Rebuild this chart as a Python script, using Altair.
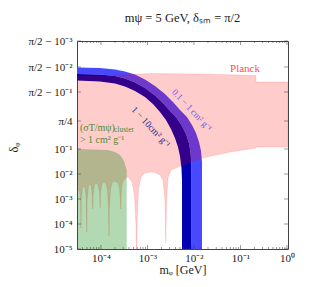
import math
import altair as alt
import pandas as pd

# ---- data -----------------------------------------------------------------
# x values are log10(m_phi / GeV); y values are positions on the delta_phi axis
# measured in "tick steps" (10^-5 -> 0, 10^-4 -> 1, ..., pi/2-10^-3 -> 8.32)

planck_logm = [-4.516, -3.806, -2.946, -1.871, -0.667, -0.667, 0.022, 0.022, -0.667, -0.667,
               -1.226, -1.828, -2.194, -2.344, -2.495, -2.559, -2.591, -2.606, -2.624, -2.667,
               -2.731, -2.839, -2.946, -3.054, -3.140, -3.194, -3.226, -3.232, -3.241, -3.247,
               -3.280, -3.333, -3.398, -3.447, -3.484, -3.527, -3.559, -3.572, -3.576, -3.583,
               -3.602, -3.634, -3.699, -3.763, -3.796, -3.822, -3.828, -3.837, -3.860, -3.892,
               -3.935, -3.978, -4.009, -4.019, -4.032, -4.065, -4.108, -4.140, -4.168, -4.178,
               -4.189, -4.211, -4.237, -4.269, -4.297, -4.305, -4.316, -4.340, -4.366, -4.398,
               -4.424, -4.430, -4.439, -4.462, -4.495, -4.516]
planck_u = [6.90, 6.94, 7.02, 7.00, 6.94, 6.68, 6.68, 4.08, 4.08, 4.04,
            3.88, 3.64, 3.40, 3.28, 3.16, 2.84, 1.96, 0.24, 1.96, 2.76,
            2.96, 3.06, 3.08, 3.04, 2.88, 2.36, 0.76, 0.0, 0.0, 0.96,
            2.16, 2.68, 2.84, 2.88, 2.80, 2.72, 2.44, 1.96, 1.60, 1.96,
            2.44, 2.64, 2.72, 2.66, 2.36, 1.56, 0.52, 1.56, 2.36, 2.60,
            2.68, 2.60, 2.28, 1.64, 2.28, 2.56, 2.64, 2.56, 2.16, 1.60,
            2.16, 2.52, 2.60, 2.52, 1.96, 0.68, 1.96, 2.44, 2.52, 2.44,
            1.96, 0.84, 1.96, 2.32, 2.36, 2.32]

cluster_logm = [-4.516, -3.849, -3.699, -3.591, -3.505, -3.447, -3.447, -4.516]
cluster_u = [4.00, 3.96, 3.88, 3.76, 3.52, 3.16, 0.0, 0.0]

# inner edge of the 1-10 cm^2/g band
inner_logm = [-4.516, -4.022, -3.699, -3.484, -3.269, -3.054, -2.882, -2.731, -2.602, -2.495,
              -2.409, -2.344, -2.301, -2.269, -2.258, -2.258]
inner_u = [6.74, 6.70, 6.62, 6.50, 6.32, 6.08, 5.80, 5.48, 5.16, 4.80,
           4.44, 4.08, 3.72, 3.24, 2.76, 0.0]
# edge between the two bands
mid_logm = [-4.516, -4.022, -3.699, -3.484, -3.269, -3.054, -2.839, -2.667, -2.516, -2.387,
            -2.258, -2.172, -2.108, -2.075, -2.058, -2.054, -2.054]
mid_u = [7.00, 6.98, 6.92, 6.82, 6.66, 6.44, 6.14, 5.84, 5.52, 5.28,
         4.92, 4.60, 4.24, 3.88, 3.44, 2.96, 0.0]
# outer edge of the 0.1-1 cm^2/g band
outer_logm = [-4.516, -4.022, -3.699, -3.484, -3.269, -3.054, -2.839, -2.624, -2.452, -2.301,
              -2.151, -2.043, -1.957, -1.892, -1.849, -1.828, -1.828]
outer_u = [7.26, 7.24, 7.18, 7.10, 6.98, 6.78, 6.52, 6.20, 5.88, 5.56,
           5.28, 4.96, 4.64, 4.28, 3.92, 3.48, 0.0]

y_tick_pos = [0, 1, 2, 3, 4, 5.12, 6.28, 7.28, 8.32]
y_tick_labels = ["10⁻⁵", "10⁻⁴", "10⁻³", "10⁻²", "10⁻¹", "π/4",
                 "π/2 − 10⁻¹", "π/2 − 10⁻²", "π/2 − 10⁻³"]
x_tick_logm = [-4, -3, -2, -1, 0]
x_tick_labels = ["10⁻⁴", "10⁻³", "10⁻²", "10⁻¹", "10⁰"]

label_text = ["Planck", "(σT/mψ)", "cluster", "> 1 cm² g⁻¹", "1 − 10cm² g⁻¹", "0.1 − 1 cm² g⁻¹"]
label_logm = [-0.903, -4.452, -3.720, -4.452, -2.925, -2.043]
label_u = [7.20, 4.84, 4.76, 4.36, 4.88, 5.56]

# ---- helpers ----------------------------------------------------------------
X_MIN, X_MAX = 10 ** -4.516, 10 ** 0.022
Y_MIN, Y_MAX = 0.0, 8.32
SERIF = "Liberation Serif"


def poly(logm, u):
    return pd.DataFrame({"m": [10 ** v for v in logm], "u": u, "i": list(range(len(u)))})


def band(a_logm, a_u, b_logm, b_u):
    return poly(list(a_logm) + list(reversed(b_logm)), list(a_u) + list(reversed(b_u)))


ylab = "''"
for p, t in zip(reversed(y_tick_pos), reversed(y_tick_labels)):
    ylab = f"abs(datum.value - {p}) < 0.01 ? '{t}' : ({ylab})"
xlab = "''"
for p, t in zip(reversed(x_tick_logm), reversed(x_tick_labels)):
    xlab = f"abs(log(datum.value)/log(10) - ({p})) < 0.01 ? '{t}' : ({xlab})"

xscale = alt.Scale(type="log", domain=[X_MIN, X_MAX], nice=False)
yscale = alt.Scale(type="linear", domain=[Y_MIN, Y_MAX], nice=False, zero=False)

xaxis = alt.Axis(values=[10 ** v for v in x_tick_logm], labelExpr=xlab, ticks=False, domain=False,
                 grid=False, labelFont=SERIF, labelFontSize=11, labelColor="#222",
                 labelPadding=3, labelOverlap=False, labelFlush=False,
                 title="mᵩ [GeV]", titleFont=SERIF, titleFontSize=12, titleFontWeight="normal",
                 titleColor="#222", titlePadding=1)
yaxis = alt.Axis(values=y_tick_pos, labelExpr=ylab, ticks=False, domain=False, grid=False,
                 labelFont=SERIF, labelFontSize=11, labelColor="#222", labelPadding=5,
                 labelOverlap=False, labelFlush=False,
                 title="δᵩ", titleFont=SERIF, titleFontSize=12.5, titleFontWeight="normal",
                 titleColor="#222", titleX=-64, titleY=106, titleBaseline="middle")

X = alt.X("m:Q", scale=xscale, axis=xaxis)
Y = alt.Y("u:Q", scale=yscale, axis=yaxis)


def polygon(df, color, opacity, stroke_opacity=0.0):
    return alt.Chart(df).mark_line(
        fill=color, fillOpacity=opacity, stroke=color, strokeOpacity=stroke_opacity,
        strokeWidth=0.8, clip=True
    ).encode(x=X, y=Y, order=alt.Order("i:Q"))


light = polygon(band(outer_logm, outer_u, mid_logm, mid_u), "#4848ff", 1.0)
dark = polygon(band(mid_logm, mid_u, inner_logm, inner_u), "#0000b0", 1.0)
planck = polygon(poly(planck_logm + planck_logm[:1], planck_u + planck_u[:1]), "#ff0000", 0.2, 0.15)
cluster = polygon(poly(cluster_logm, cluster_u), "#008000", 0.3)

lab = pd.DataFrame({"m": [10 ** v for v in label_logm], "u": label_u, "t": label_text})


def text(idx, **kw):
    return alt.Chart(lab.iloc[[idx]]).mark_text(font=SERIF, **kw).encode(x=X, y=Y, text="t:N")


texts = [
    text(0, fontSize=11, color="#ff4d4d", align="center"),
    text(1, fontSize=10, color="#4d8a36", align="left"),
    text(2, fontSize=7.5, color="#4d8a36", align="left"),
    text(3, fontSize=10, color="#4d8a36", align="left"),
    text(4, fontSize=9.5, color="#1c1c86", align="center", angle=47),
    text(5, fontSize=9, color="#5a5af0", align="center", angle=47),
]

# inward tick marks on all four sides
minor_vals = [k * 10 ** e for e in range(-5, 1) for k in range(2, 10) if X_MIN <= k * 10 ** e <= X_MAX]
major_vals = [10 ** v for v in x_tick_logm]


def xticks(vals, u, size, off):
    df = pd.DataFrame({"m": vals, "u": [u] * len(vals)})
    return alt.Chart(df).mark_tick(orient="vertical", size=size, thickness=0.7, color="#333",
                                   yOffset=off).encode(x=X, y=Y)


def yticks(m, size, off):
    df = pd.DataFrame({"m": [m] * len(y_tick_pos), "u": y_tick_pos})
    return alt.Chart(df).mark_tick(orient="horizontal", size=size, thickness=0.7, color="#333",
                                   xOffset=off).encode(x=X, y=Y)


ticks = [
    xticks(major_vals, Y_MIN, 4, -2), xticks(minor_vals, Y_MIN, 2, -1),
    xticks(major_vals, Y_MAX, 4, 2), xticks(minor_vals, Y_MAX, 2, 1),
    yticks(X_MIN, 4, 2), yticks(X_MAX, 4, -2),
]

chart = alt.layer(light, dark, planck, cluster, *texts, *ticks).properties(
    width=211, height=208,
    autosize=alt.AutoSizeParams(type="none"),
    padding={"left": 69, "top": 33, "right": 12, "bottom": 30},
    title=alt.Title("mψ = 5 GeV, δₛₘ = π/2", font=SERIF, fontSize=12.5, fontWeight="normal",
                    color="#222", offset=11, anchor="middle"),
).configure_view(stroke="#444", strokeWidth=1)

chart.save("out.html", embed_options={"renderer": "svg", "actions": False})
